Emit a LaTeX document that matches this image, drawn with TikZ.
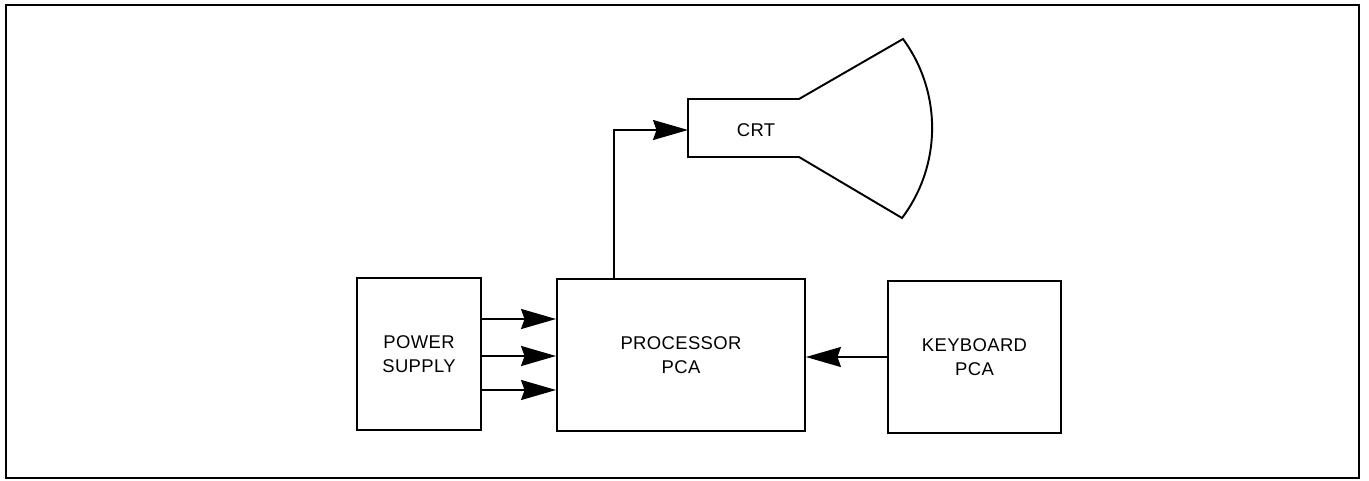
\documentclass[tikz,border=0pt]{standalone}
\usepackage{fontspec}
\setmainfont{Liberation Sans}[LetterSpace=2]
\usepackage{tikz}
\usetikzlibrary{arrows.meta,positioning}
\tikzset{
  ar/.style={-{Stealth[length=7mm,width=4mm,inset=0.7mm]},line width=1.1pt},
  box/.style={draw,line width=1.1pt,align=center,inner sep=0pt,minimum height=3.04cm,font=\fontsize{10.5}{14}\selectfont},
  frame/.style={line width=1.3pt}
}
\begin{document}
\begin{tikzpicture}[x=0.02cm,y=-0.02cm]
\useasboundingbox (0,0) rectangle (1369,480);
\draw[frame] (6,5) rectangle (1359,478);
\node[box,minimum width=2.48cm] (power) at (419,354) {POWER\\SUPPLY};
\node[box,minimum width=4.96cm] (proc) at (681,355) {PROCESSOR\\PCA};
\node[box,minimum width=3.46cm] (kbd) at (974.5,357) {KEYBOARD\\PCA};
% crt tube
\draw[line width=1.1pt] (688,99) -- (799,99) -- (903,39) .. controls (942,92) and (942,165) .. (902,218) -- (799,157) -- (688,157) -- cycle;
\node[font=\fontsize{10.5}{14}\selectfont] (crt) at (756,130) {CRT};
\coordinate (crtin) at (688,130);
\foreach \y in {319,356,390}
  \draw[ar] (power.east |- 0,\y) -- (proc.west |- 0,\y);
\draw[ar] (kbd.west) -- (proc.east |- kbd.west);
\draw[ar] (proc.north -| 614,0) |- (crtin);
\end{tikzpicture}
\end{document}
